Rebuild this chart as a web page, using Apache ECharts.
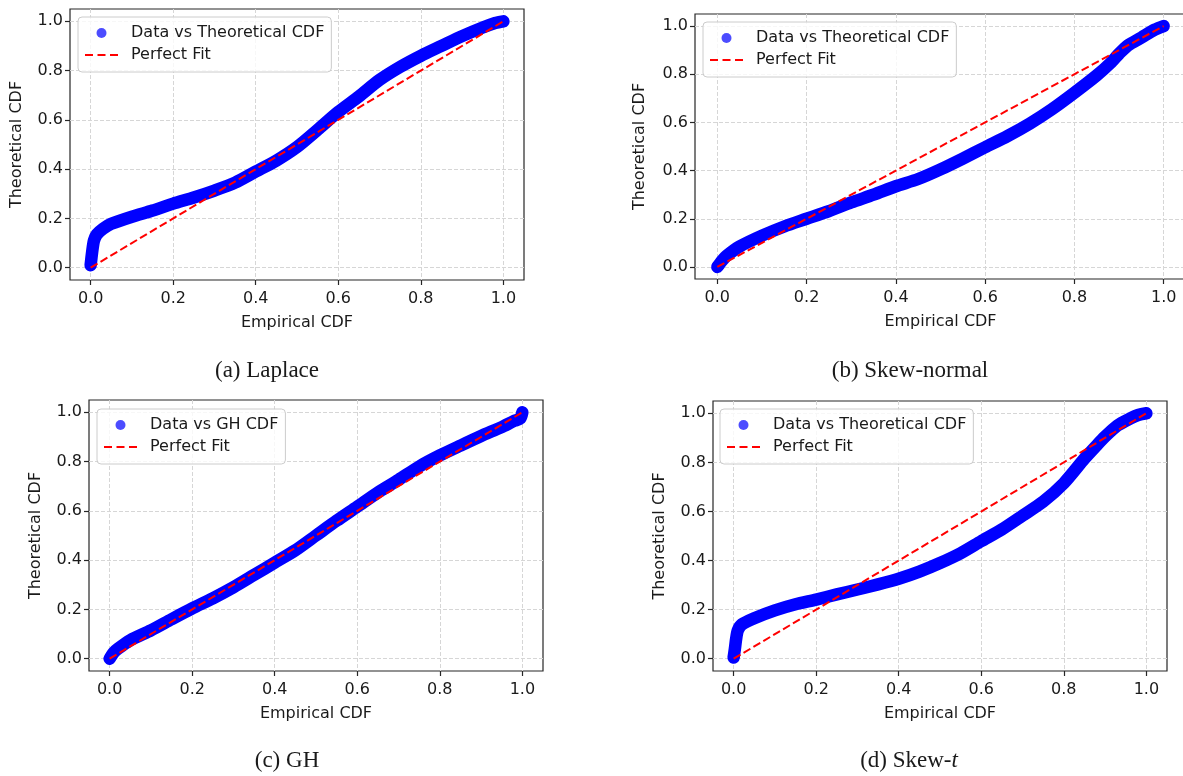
<!DOCTYPE html>
<html>
<head>
<meta charset="utf-8">
<script src="https://cdn.jsdelivr.net/npm/echarts@6.0.0/dist/echarts.min.js"></script>
<style>
  html, body { margin: 0; padding: 0; background: #fff; }
  #main { width: 1183px; height: 776px; }
</style>
</head>
<body>
<div id="main"></div>
<script>
// values: empirical CDF (x) against theoretical CDF (y)
const laplaceEmp = [0, 0.002, 0.005, 0.008, 0.015, 0.03, 0.05, 0.1, 0.15, 0.2, 0.25, 0.3, 0.35, 0.4, 0.45, 0.5, 0.55, 0.6, 0.65, 0.7, 0.75, 0.8, 0.85, 0.9, 0.95, 0.98, 1.0];
const laplaceTheo = [0.01, 0.04, 0.08, 0.11, 0.135, 0.158, 0.178, 0.207, 0.232, 0.26, 0.285, 0.313, 0.345, 0.39, 0.435, 0.49, 0.56, 0.632, 0.695, 0.762, 0.815, 0.86, 0.9, 0.94, 0.975, 0.993, 1.0];

const skewNormalEmp = [0, 0.01, 0.02, 0.05, 0.1, 0.15, 0.2, 0.25, 0.3, 0.35, 0.4, 0.45, 0.5, 0.55, 0.6, 0.65, 0.7, 0.75, 0.8, 0.85, 0.88, 0.9, 0.92, 0.95, 0.98, 1.0];
const skewNormalTheo = [0, 0.025, 0.045, 0.085, 0.13, 0.168, 0.2, 0.232, 0.268, 0.3, 0.335, 0.365, 0.405, 0.45, 0.497, 0.543, 0.595, 0.655, 0.723, 0.795, 0.845, 0.885, 0.92, 0.952, 0.985, 1.0];

const ghEmp = [0, 0.01, 0.02, 0.05, 0.1, 0.15, 0.2, 0.25, 0.3, 0.35, 0.4, 0.45, 0.5, 0.55, 0.6, 0.65, 0.7, 0.75, 0.8, 0.85, 0.9, 0.95, 0.98, 0.995, 1.0];
const ghTheo = [0, 0.025, 0.04, 0.075, 0.115, 0.16, 0.204, 0.245, 0.29, 0.34, 0.39, 0.44, 0.5, 0.56, 0.617, 0.675, 0.726, 0.78, 0.825, 0.865, 0.904, 0.94, 0.965, 0.975, 1.0];

const skewTEmp = [0, 0.003, 0.006, 0.01, 0.02, 0.05, 0.1, 0.15, 0.2, 0.25, 0.3, 0.35, 0.4, 0.45, 0.5, 0.55, 0.6, 0.65, 0.7, 0.75, 0.8, 0.85, 0.88, 0.9, 0.93, 0.96, 0.98, 1.0];
const skewTTheo = [0.005, 0.04, 0.08, 0.115, 0.14, 0.165, 0.197, 0.222, 0.241, 0.262, 0.282, 0.303, 0.326, 0.355, 0.39, 0.43, 0.479, 0.527, 0.583, 0.64, 0.715, 0.815, 0.87, 0.905, 0.95, 0.978, 0.993, 1.0];

// the "Perfect Fit" diagonal
const fitX = [0, 1];
const fitY = [0, 1];

const tickValues = [0, 0.2, 0.4, 0.6, 0.8, 1.0];
const dataLabels = ['Data vs Theoretical CDF', 'Data vs Theoretical CDF', 'Data vs GH CDF', 'Data vs Theoretical CDF'];
const captions = ['(a) Laplace', '(b) Skew-normal', '(c) GH', '(d) Skew-{i|t}'];

const panels = [
  [laplaceEmp, laplaceTheo],
  [skewNormalEmp, skewNormalTheo],
  [ghEmp, ghTheo],
  [skewTEmp, skewTTheo]
];

// layout of each subplot (pixels)
const layouts = [
  { left: 70, top: 9, width: 454, height: 271, yGap: 45, legLeft: 78, legTop: 17, capX: 267, capY: 371 },
  { left: 695, top: 14, width: 491, height: 265, yGap: 47, legLeft: 703, legTop: 22, capX: 910, capY: 371 },
  { left: 89, top: 400, width: 454, height: 271, yGap: 45, legLeft: 97, legTop: 409, capX: 287, capY: 761 },
  { left: 713, top: 401, width: 454, height: 270, yGap: 45, legLeft: 720, legTop: 409, capX: 909, capY: 761 }
];

const FONT = 'DejaVu Sans';
const TEXT = '#1a1a1a';
// three red dashes, for the legend of the diagonal
const DASH_ICON = 'path://M0,0h8v2.2h-8z M12.5,0h8v2.2h-8z M25,0h8v2.2h-8z';

const zip = (xs, ys) => xs.map(function (x, k) { return [x, ys[k]]; });

const axisCfg = (dim, i, name, gap) => {
  return {
    type: 'value',
    gridIndex: i,
    min: -0.05,
    max: 1.05,
    name: name,
    nameLocation: 'middle',
    nameGap: gap,
    nameTextStyle: { fontFamily: FONT, fontSize: 16, color: TEXT },
    axisLine: { show: false, onZero: false },
    axisTick: {
      show: true,
      length: 5,
      customValues: tickValues,
      lineStyle: { color: '#262626', width: 1.2 }
    },
    axisLabel: {
      customValues: tickValues,
      margin: dim === 'x' ? 11 : 7,
      fontFamily: FONT,
      fontSize: 16,
      color: TEXT,
      formatter: function (v) { return v.toFixed(1); }
    },
    splitLine: {
      show: true,
      lineStyle: { color: '#d6d6d6', width: 1, type: [4, 2] }
    }
  };
};

const qqCharts = (selector) => {
  var myChart = echarts.init(document.getElementById(selector), null, { renderer: 'canvas' });
  var grid = [], xAxis = [], yAxis = [], series = [], legend = [], graphic = [];

  panels.forEach(function (p, i) {
    var L = layouts[i];
    grid.push({
      left: L.left, top: L.top, width: L.width, height: L.height,
      show: true,
      borderColor: '#262626',
      borderWidth: 1.2,
      backgroundColor: 'transparent',
      containLabel: false,
      outerBoundsMode: 'none'
    });
    xAxis.push(axisCfg('x', i, 'Empirical CDF', 35));
    yAxis.push(axisCfg('y', i, 'Theoretical CDF', L.yGap));

    series.push({
      name: dataLabels[i],
      type: 'line',
      xAxisIndex: i,
      yAxisIndex: i,
      data: zip(p[0], p[1]),
      symbol: 'none',
      showSymbol: false,
      smooth: 0.25,
      lineStyle: { color: '#0000ff', width: 12.5, cap: 'round', join: 'round' },
      itemStyle: { color: 'rgba(0, 0, 255, 0.7)' },
      z: 2
    });
    series.push({
      name: 'Perfect Fit',
      type: 'line',
      xAxisIndex: i,
      yAxisIndex: i,
      data: zip(fitX, fitY),
      symbol: 'none',
      showSymbol: false,
      lineStyle: { color: '#ff0000', width: 2, type: [8, 3.5] },
      itemStyle: { color: '#ff0000' },
      z: 3
    });

    legend.push({
      orient: 'vertical',
      left: L.legLeft,
      top: L.legTop,
      data: [
        { name: dataLabels[i], icon: 'circle', itemStyle: { color: 'rgba(0, 0, 255, 0.7)' } },
        { name: 'Perfect Fit', icon: DASH_ICON, itemStyle: { color: '#ff0000' } }
      ],
      itemWidth: 33,
      itemHeight: 10,
      itemGap: 2,
      padding: [6, 7, 7, 7],
      backgroundColor: 'rgba(255, 255, 255, 0.8)',
      borderColor: '#cccccc',
      borderWidth: 1,
      borderRadius: 4,
      selectedMode: false,
      textStyle: { fontFamily: FONT, fontSize: 16, color: TEXT, lineHeight: 20, padding: [0, 0, 0, 8] }
    });

    graphic.push({
      type: 'text',
      x: L.capX,
      y: L.capY,
      style: {
        text: captions[i],
        fontFamily: 'Liberation Serif',
        fontSize: 23,
        fill: TEXT,
        textAlign: 'center',
        textVerticalAlign: 'middle',
        align: 'center',
        verticalAlign: 'middle',
        rich: {
          i: { fontFamily: 'Liberation Serif', fontSize: 23, fontStyle: 'italic', fill: TEXT }
        }
      }
    });
  });

  var option = {
    animation: false,
    backgroundColor: '#ffffff',
    grid: grid,
    xAxis: xAxis,
    yAxis: yAxis,
    legend: legend,
    series: series,
    graphic: graphic
  };
  myChart.setOption(option);
};

qqCharts('main');
</script>
</body>
</html>
